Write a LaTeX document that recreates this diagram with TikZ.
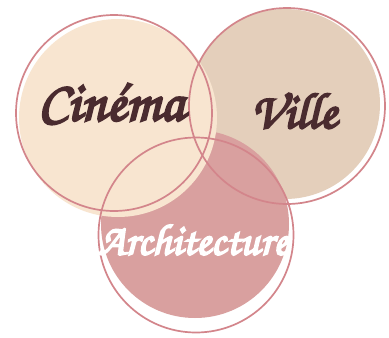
\documentclass[tikz,border=0pt]{standalone}
\usepackage{fontspec}
\usepackage{graphicx}
\newfontfamily\brushfont[FakeBold=4]{TeX Gyre Chorus}
\definecolor{cinefill}{HTML}{F8E5D0}
\definecolor{villefill}{HTML}{E4CFBB}
\definecolor{archfill}{HTML}{D9A09F}
\definecolor{ringcol}{HTML}{D3858B}
\definecolor{textdark}{HTML}{4A2B2F}
\tikzset{
  ring/.style={draw=ringcol, line width=1.7pt},
  label/.style={inner sep=0pt, anchor=center},
}
\begin{document}
\begin{tikzpicture}[x=1pt,y=-1pt]
\useasboundingbox[fill=white] (0,0) rectangle (389,338);
% fills
\fill[villefill] (285,104) circle (95);
\fill[archfill] (195,224) circle (94);
\fill[cinefill] (118,118) circle (99);
% outlines
\draw[ring] (114,113) circle (98);
\draw[ring] (287,106) circle (98);
\draw[ring] (196,235) circle (97.5);
% labels
\node[label, text=textdark] (cinema) at (111,104) {\resizebox{146pt}{!}{\brushfont Cinéma}};
\node[label, text=textdark] (ville) at (294,111) {\resizebox{86pt}{!}{\brushfont Ville}};
\node[label, text=white] (arch) at (193,240) {\resizebox{190pt}{!}{\brushfont Architecture}};
\end{tikzpicture}
\end{document}
